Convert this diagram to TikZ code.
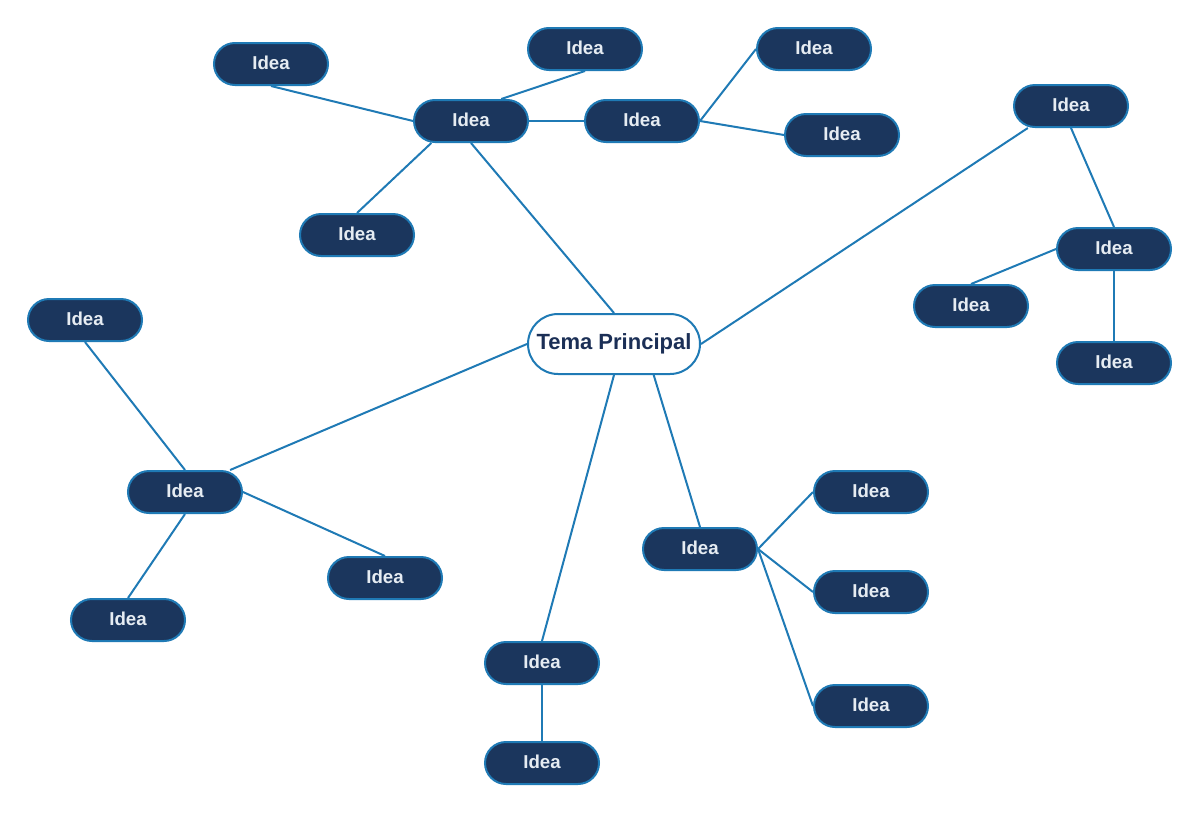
\documentclass[tikz,border=0pt]{standalone}
\usepackage{fontspec}
\setmainfont{Liberation Sans}
\definecolor{navy}{HTML}{1B365D}
\definecolor{edgeblue}{HTML}{1F7AB5}
\definecolor{ideatext}{HTML}{E6ECF2}
\definecolor{maintext}{HTML}{1B2F56}
\begin{document}
\begin{tikzpicture}[x=0.75pt,y=-0.75pt,
  idea/.style={draw=edgeblue,line width=1.5pt,fill=navy,rounded corners=15.75pt,
    minimum width=85.5pt,minimum height=31.5pt,inner sep=0pt,
    text=ideatext,font=\fontsize{14}{16}\selectfont\bfseries},
  mainnode/.style={draw=edgeblue,line width=1.5pt,fill=white,rounded corners=22.5pt,
    minimum width=129pt,minimum height=45pt,inner sep=0pt,
    text=maintext,font=\fontsize{16.5}{19}\selectfont\bfseries},
  link/.style={draw=edgeblue,line width=1.5pt}]
\useasboundingbox (0,0) rectangle (1200,814);
\newcommand{\ideatxt}{\raisebox{1.2pt}{Idea}}
\node[mainnode] (T) at (614,344) {Tema Principal};
% top cluster
\node[idea] (A) at (471,121) {\ideatxt};
\node[idea] (A1) at (271,64) {\ideatxt};
\node[idea] (A2) at (585,49) {\ideatxt};
\node[idea] (A3) at (357,235) {\ideatxt};
\node[idea] (B) at (642,121) {\ideatxt};
\node[idea] (B1) at (814,49) {\ideatxt};
\node[idea] (B2) at (842,135) {\ideatxt};
% right cluster
\node[idea] (C1) at (1071,106) {\ideatxt};
\node[idea] (C) at (1114,249) {\ideatxt};
\node[idea] (C2) at (971,306) {\ideatxt};
\node[idea] (C3) at (1114,363) {\ideatxt};
% left cluster
\node[idea] (D) at (185,492) {\ideatxt};
\node[idea] (D1) at (85,320) {\ideatxt};
\node[idea] (D2) at (385,578) {\ideatxt};
\node[idea] (D3) at (128,620) {\ideatxt};
% bottom
\node[idea] (E) at (542,663) {\ideatxt};
\node[idea] (E1) at (542,763) {\ideatxt};
% bottom right
\node[idea] (F) at (700,549) {\ideatxt};
\node[idea] (F1) at (871,492) {\ideatxt};
\node[idea] (F2) at (871,592) {\ideatxt};
\node[idea] (F3) at (871,706) {\ideatxt};
\draw[link] (T.north) -- (A.south);
\draw[link] (T.east) -- (C1.207);
\draw[link] (T.west) -- (D.26);
\draw[link] (T.south) -- (E.north);
\draw[link] (T.322) -- (F.north);
\draw[link] (A.west) -- (A1.south);
\draw[link] (A.36) -- (A2.south);
\draw[link] (A.209) -- (A3.north);
\draw[link] (A.east) -- (B.west);
\draw[link] (B.east) -- (B1.west);
\draw[link] (B.east) -- (B2.west);
\draw[link] (C1.south) -- (C.north);
\draw[link] (C.west) -- (C2.north);
\draw[link] (C.south) -- (C3.north);
\draw[link] (D.north) -- (D1.south);
\draw[link] (D.east) -- (D2.north);
\draw[link] (D.south) -- (D3.north);
\draw[link] (E.south) -- (E1.north);
\draw[link] (F.east) -- (F1.west);
\draw[link] (F.east) -- (F2.west);
\draw[link] (F.east) -- (F3.west);
\end{tikzpicture}
\end{document}
